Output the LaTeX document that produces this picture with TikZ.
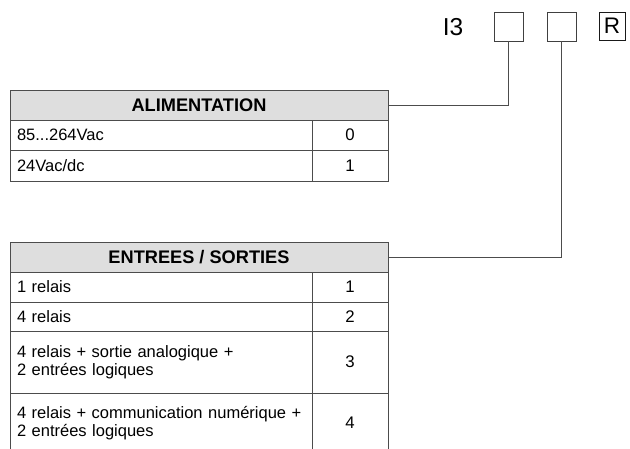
\documentclass[tikz,border=0pt]{standalone}
\usepackage{fontspec}
\setmainfont{Liberation Sans}
\usepackage{xcolor}
\usetikzlibrary{positioning}

\begin{document}
\begin{tikzpicture}[
    x=1pt, y=-1pt,
    hdr/.style={
        rectangle, draw=black!70, fill=black!13,
        minimum width=378pt, minimum height=30pt,
        inner sep=0pt, outer sep=0pt, anchor=north west,
        font=\fontsize{18.2}{20}\selectfont\bfseries, line width=0.9pt
    },
    lcell/.style={
        rectangle, draw=black!70,
        text width=288pt, inner xsep=7pt, inner ysep=0pt, outer sep=0pt,
        align=left, anchor=north west,
        font=\fontsize{16.5}{18.5}\selectfont, line width=0.9pt
    },
    ncell/.style={
        rectangle, draw=black!70,
        minimum width=76pt, inner sep=0pt, outer sep=0pt,
        anchor=north west,
        font=\fontsize{16.8}{18.5}\selectfont, line width=0.9pt
    },
    digit/.style={
        rectangle, draw=black!75,
        minimum width=29pt, minimum height=29pt,
        inner sep=0pt, outer sep=0pt, line width=0.9pt
    },
    link/.style={
        line width=0.9pt, color=black!70
    }
]
\useasboundingbox (0,0) rectangle (630,448);

% Nodes
\node[font=\fontsize{24.5}{24}\selectfont] (model) at (453,27) {I3};
\node[digit] (d1) at (508.5,26.5) {};
\node[digit] (d2) at (561.5,26.5) {};
\node[digit, draw=black!90, minimum width=26pt, minimum height=28pt,
      font=\fontsize{22.5}{22}\selectfont] (dr) at (612,26) {R};

\node[hdr] (alim) at (10,90) {ALIMENTATION};
\node[lcell, minimum height=30pt] (a0) at (alim.south west) {85...264Vac};
\node[ncell, minimum height=30pt] (c0) at (a0.north east) {0};
\node[lcell, minimum height=31pt] (a1) at (a0.south west) {24Vac/dc};
\node[ncell, minimum height=31pt] (c1) at (a1.north east) {1};

\node[hdr] (io) at (10,242) {ENTREES / SORTIES};
\node[lcell, minimum height=30pt] (e1) at (io.south west) {1 relais};
\node[ncell, minimum height=30pt] (n1) at (e1.north east) {1};
\node[lcell, minimum height=29pt] (e2) at (e1.south west) {4 relais};
\node[ncell, minimum height=29pt] (n2) at (e2.north east) {2};
\node[lcell, minimum height=62pt] (e3) at (e2.south west) {4 relais + sortie analogique +\\2 entrées logiques};
\node[ncell, minimum height=62pt] (n3) at (e3.north east) {3};
\node[lcell, minimum height=60pt] (e4) at (e3.south west) {4 relais + communication numérique +\\2 entrées logiques};
\node[ncell, minimum height=60pt] (n4) at (e4.north east) {4};

% Arrows
\draw[link] (d1.south) |- (alim.east);
\draw[link] (d2.south) |- (io.east);

\end{tikzpicture}
\end{document}
